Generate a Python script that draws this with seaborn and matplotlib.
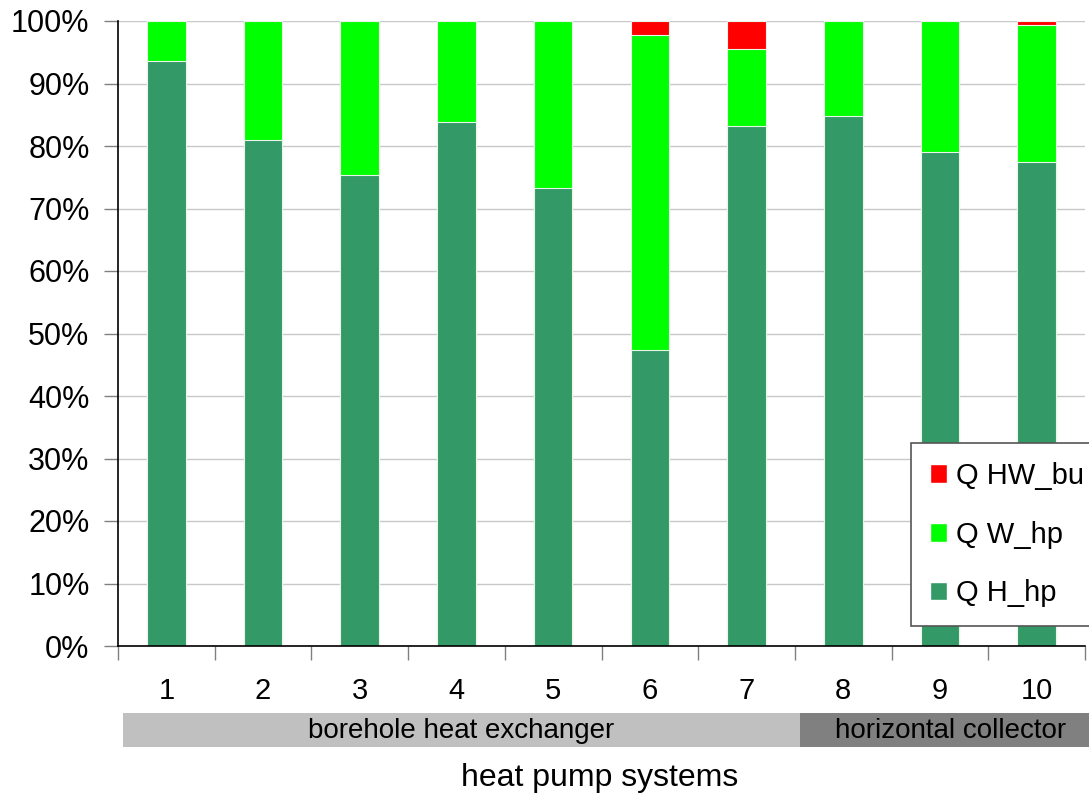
import numpy as np
import pandas as pd
import seaborn as sns
from matplotlib import pyplot as plt
from matplotlib.patches import Patch, Rectangle
import matplotlib.transforms as mtransforms

systems = ["1", "2", "3", "4", "5", "6", "7", "8", "9", "10"]
q_h_hp = [93.6, 81.0, 75.4, 83.8, 73.3, 47.4, 83.2, 84.8, 79.0, 77.4]
q_hw_bu = [0.0, 0.0, 0.0, 0.0, 0.0, 2.2, 4.5, 0.0, 0.0, 0.6]
q_w_hp = [100 - h - b for h, b in zip(q_h_hp, q_hw_bu)]
# (label, band start, band end, label centre, colour) in category units
groups = [("borehole heat exchanger", -0.45, 6.55, 3.05, "#c0c0c0"),
          ("horizontal collector", 6.55, 10.5, 8.11, "#808080")]

df = pd.DataFrame({"system": systems, "H": q_h_hp, "W": q_w_hp, "BU": q_hw_bu})
df["HW"] = df["H"] + df["W"]
df["ALL"] = df["HW"] + df["BU"]

sns.set_style("white")
plt.rcParams["font.family"] = ["Liberation Sans", "DejaVu Sans"]
plt.rcParams["text.color"] = "black"
plt.rcParams["xtick.color"] = "black"
plt.rcParams["ytick.color"] = "black"

fig = plt.figure(figsize=(10.89, 7.98), dpi=100)
ax = fig.add_axes([118 / 1089, 1 - 646 / 798, (1085 - 118) / 1089, (646 - 21) / 798])

edge = dict(edgecolor="#e8f5e8", linewidth=0.8)
sns.barplot(data=df, x="system", y="ALL", color="#ff0000", saturation=1, width=0.4, ax=ax, **edge)
sns.barplot(data=df, x="system", y="HW", color="#00ff00", saturation=1, width=0.4, ax=ax, **edge)
sns.barplot(data=df, x="system", y="H", color="#339966", saturation=1, width=0.4, ax=ax, **edge)

ax.set_xlim(-0.5, 9.5)
ax.set_ylim(0, 100)
ax.set_yticks(np.arange(0, 101, 10))
ax.set_yticklabels([f"{v}%" for v in range(0, 101, 10)], fontsize=22)
ax.yaxis.grid(True, color="#c8c8c8", linewidth=1)
ax.set_axisbelow(True)
ax.tick_params(axis="y", length=10, width=1, color="#808080", labelcolor="black", left=True, pad=10.5)

ax.set_xticks(np.arange(-0.5, 10, 1), minor=True)
ax.tick_params(axis="x", which="minor", length=10, width=1, color="#808080", bottom=True)
ax.tick_params(axis="x", which="major", length=0, labelsize=21, labelcolor="black", pad=22)
ax.set_xlabel("")
ax.set_ylabel("")

for s in ["top", "right"]:
    ax.spines[s].set_visible(False)
for s in ["left", "bottom"]:
    ax.spines[s].set_color("black")
    ax.spines[s].set_linewidth(1.2)

# category band below the ticks
trans = mtransforms.blended_transform_factory(ax.transData, fig.transFigure)
for label, x0, x1, xc, col in groups:
    ax.add_patch(Rectangle((x0, 1 - 747 / 798), x1 - x0, 34 / 798, transform=trans,
                           facecolor=col, edgecolor="none", clip_on=False))
    ax.text(xc, 1 - 731 / 798, label, transform=trans,
            ha="center", va="center", fontsize=20, color="black")

fig.text((118 + 1085) / 2 / 1089 - 0.002, 1 - 778 / 798, "heat pump systems",
         ha="center", va="center", fontsize=23, color="black")

handles = [Patch(facecolor="#ff0000", label="Q HW_bu"),
           Patch(facecolor="#00ff00", label="Q W_hp"),
           Patch(facecolor="#339966", label="Q H_hp")]
leg = fig.legend(handles=handles, loc="upper left", bbox_to_anchor=(911 / 1089, 1 - 443 / 798),
                 fontsize=21, frameon=True, fancybox=False, framealpha=1,
                 handlelength=0.6, handleheight=0.6, handletextpad=0.3,
                 labelspacing=1.05, borderpad=0.65, borderaxespad=0)
leg.get_frame().set_edgecolor("#555555")
leg.get_frame().set_linewidth(1.2)
leg.get_frame().set_facecolor("white")
leg._legend_box.sep = 0
for t in leg.get_texts():
    t.set_color("black")

fig.savefig("out.png", dpi=100)
